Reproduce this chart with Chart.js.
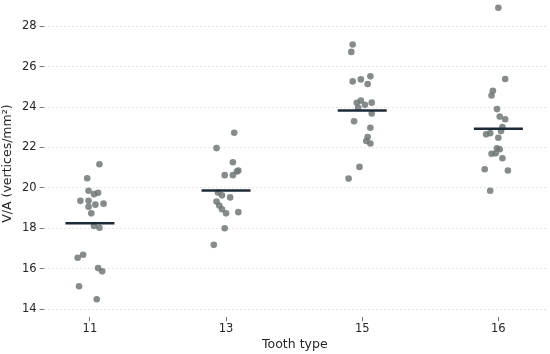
<!DOCTYPE html>
<html>
<head>
<meta charset="utf-8">
<script src="https://cdn.jsdelivr.net/npm/chart.js@4.4.0/dist/chart.umd.min.js"></script>
<style>
  html, body { margin: 0; padding: 0; background: #fff; }
  #wrap { width: 550px; height: 354px; }
</style>
</head>
<body>
<div id="wrap"><canvas id="mygraph"></canvas></div>
<script>
// tooth types and the points
const toothTypes = ['11', '13', '15', '16'];

const vals11 = [21.17, 20.48, 19.86, 19.76, 19.69, 19.36, 19.36, 19.17, 19.22, 19.07,
                18.74, 18.12, 18.03, 16.69, 16.54, 16.03, 15.87, 15.13, 14.49];
const jit11  = [0.07, -0.02, -0.01, 0.06, 0.03, -0.07, -0.01, 0.04, 0.10, -0.01,
                0.01, 0.03, 0.07, -0.05, -0.09, 0.06, 0.09, -0.08, 0.05];

const vals13 = [22.73, 21.97, 21.27, 20.86, 20.81, 20.63, 20.63, 19.77, 19.63, 19.53,
                19.33, 19.13, 18.94, 18.74, 18.80, 18.00, 17.18];
const jit13  = [0.06, -0.07, 0.05, 0.09, 0.08, -0.01, 0.05, -0.06, -0.03, 0.03,
                -0.07, -0.05, -0.03, 0.00, 0.09, -0.01, -0.09];

const vals15 = [27.10, 26.73, 25.27, 25.37, 25.52, 25.14, 24.32, 24.21, 24.11, 24.22,
                23.96, 23.68, 23.30, 22.98, 22.52, 22.32, 22.20, 21.04, 20.46];
const jit15  = [-0.07, -0.08, -0.07, -0.01, 0.06, 0.04, -0.01, -0.04, 0.02, 0.07,
                -0.03, 0.07, -0.06, 0.06, 0.04, 0.03, 0.06, -0.02, -0.10];

const vals16 = [28.92, 25.39, 24.81, 24.57, 23.90, 23.53, 23.40, 23.01, 22.81, 22.71,
                22.65, 22.48, 21.96, 21.91, 21.69, 21.71, 21.47, 20.92, 20.86, 19.86];
const jit16  = [0.00, 0.05, -0.04, -0.05, -0.01, 0.01, 0.05, 0.03, 0.02, -0.06,
                -0.09, 0.00, -0.01, 0.01, -0.05, -0.02, 0.03, -0.10, 0.07, -0.06];

const means = [18.25, 19.87, 23.83, 22.93];
const yTicks = [14, 16, 18, 20, 22, 24, 26, 28];

const groups = [[vals11, jit11], [vals13, jit13], [vals15, jit15], [vals16, jit16]];
const halfWidth = 0.18;

let points = [];
groups.forEach((g, i) => {
    g[0].forEach((v, k) => points.push({x: i + g[1][k], y: v}));
});

let meanLine = [];
means.forEach((m, i) => {
    meanLine.push({x: i - halfWidth, y: m});
    meanLine.push({x: i + halfWidth, y: m});
    meanLine.push({x: i, y: null});
});

const ctx = document.getElementById('mygraph').getContext('2d');
Chart.defaults.font.family = 'DejaVu Sans';
Chart.defaults.color = '#262626';

const chart = new Chart(ctx, {
    type: 'scatter',
    data: {
        datasets: [
            {
                type: 'line',
                data: meanLine,
                borderColor: '#1c2b3a',
                borderWidth: 2.5,
                pointRadius: 0,
                spanGaps: false,
                order: 0
            },
            {
                data: points,
                backgroundColor: 'rgba(110,120,120,0.85)',
                borderColor: 'rgba(110,120,120,0.85)',
                borderWidth: 0,
                pointRadius: 3.3,
                clip: false,
                order: 1
            }
        ]
    },
    options: {
        responsive: true,
        maintainAspectRatio: false,
        animation: {duration: 0},
        layout: {padding: {left: 0, right: 2, top: 0, bottom: 2}},
        plugins: {legend: {display: false}, tooltip: {enabled: false}},
        scales: {
            x: {
                type: 'linear',
                min: -0.34,
                max: 3.35,
                afterBuildTicks: axis => { axis.ticks = toothTypes.map((t, i) => ({value: i})); },
                ticks: {
                    callback: (v) => toothTypes[v],
                    font: {size: 11.5},
                    padding: 1
                },
                grid: {drawOnChartArea: false, drawTicks: true, tickLength: 4, tickColor: '#777'},
                border: {display: false},
                title: {display: true, text: 'Tooth type', font: {size: 12.5}, padding: {top: 0, bottom: 0}}
            },
            y: {
                min: 13.6,
                max: 28.81,
                afterBuildTicks: axis => { axis.ticks = yTicks.map(v => ({value: v})); },
                ticks: {font: {size: 11.5}, padding: 3},
                grid: {color: '#e4e4e4', lineWidth: 1, tickLength: 4, tickColor: '#777', tickBorderDash: []},
                border: {display: false, dash: [2, 2]},
                title: {display: true, text: 'V/A (vertices/mm²)', font: {size: 12.5}, padding: {top: 0, bottom: 4}}
            }
        }
    }
});
</script>
</body>
</html>
